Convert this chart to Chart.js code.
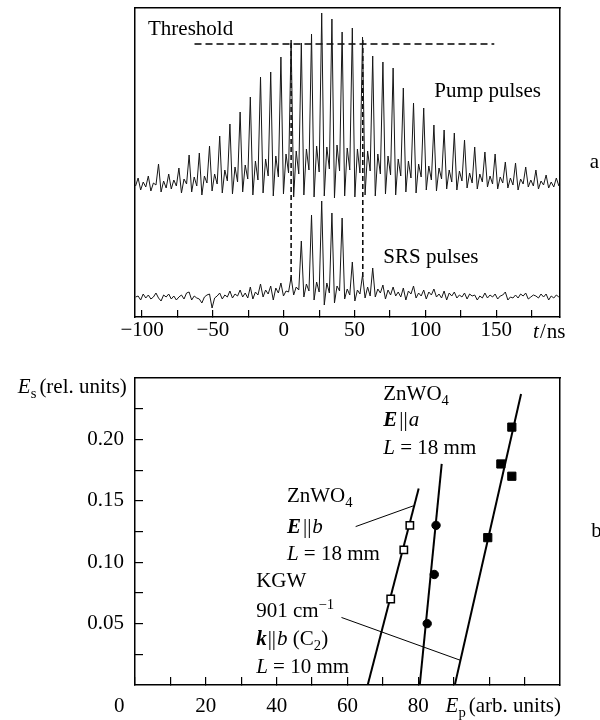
<!DOCTYPE html>
<html>
<head>
<meta charset="utf-8">
<script src="https://cdn.jsdelivr.net/npm/chart.js@4.4.0/dist/chart.umd.min.js"></script>
<style>
  html, body { margin: 0; padding: 0; background: #fff; }
  .panel { position: absolute; left: 0; width: 600px; height: 360px; }
  #pulses { top: 0; }
  #energy { top: 360px; }
</style>
</head>
<body>
<div class="panel" id="pulses"><canvas id="pulseChart" width="600" height="360"></canvas></div>
<div class="panel" id="energy"><canvas id="energyChart" width="600" height="360"></canvas></div>
<script>
// ---- panel a: scope traces, one sample every 1.8 ns starting at -104.6 ns ----
const traceStart = -104.6;
const traceStep = 1.8;
const pumpTrace = [131,
  139,127,135,130, 141,126,134,132, 153,125,136,129, 143,128,137,131, 149,124,138,133,
  162,125,140,131, 164,122,141,134, 171,126,143,133, 181,124,147,136, 193,123,150,135,
  205,125,152,138, 220,122,156,137, 240,124,158,141, 245,121,161,140, 260,123,163,144,
  277,120,166,143, 274,122,168,147, 283,120,171,145, 304,121,170,148, 298,119,172,146,
  285,121,169,147, 289,120,168,144, 280,122,166,146, 261,121,163,143, 255,123,161,142,
  249,122,158,141, 229,125,156,139, 214,124,153,140, 209,127,151,137, 192,126,149,138,
  187,128,147,135, 184,127,146,136, 177,129,144,134, 170,128,143,135, 165,130,141,133,
  163,128,140,134, 155,129,139,132, 154,127,138,133, 150,130,137,131, 147,128,136,132,
  142,129,135,130, 139,131];
const srsTrace = [20,
  21,17,23,19, 22,18,20,24, 19,16,22,20, 23,18,21,17, 20,22,18,24,
  25,17,21,19, 18,14,20,22, 23,9,19,21, 24,18,22,20, 26,19,23,21,
  27,20,24,19, 30,18,25,22, 33,20,27,23, 31,17,29,24, 34,21,26,25,
  40,22,30,27, 76,20,33,26, 102,17,35,25, 116,12,34,24, 104,14,31,26,
  99,18,28,22, 55,16,27,23, 42,19,30,21, 49,20,28,24, 32,18,27,22,
  30,21,25,20, 29,17,26,23, 31,19,24,21, 27,18,25,22, 28,20,23,19,
  26,17,24,21, 25,19,22,20, 24,18,23,21, 22,17,21,19, 24,19,22,20,
  23,18,21,22, 25,17,20,19, 22,19,23,21, 24,18,20,22, 21,19,23,20,
  23,17,21,19, 22,20];
const thresholdT = [-63, 148.6];
const thresholdLevel = 273;
const gateT = [5.2, 55.8];
const gateLow = [37, 40];
const gateHigh = [277, 280];
const timeTicks = [-100, -75, -50, -25, 0, 25, 50, 75, 100, 125, 150, 175];
const timeLabels = { '-100': '\u2212100', '-50': '\u221250', '0': '0', '50': '50', '100': '100', '150': '150' };

// ---- panel b: Stokes energy vs pump energy ----
const ebX = [72.2, 75.9, 77.6];
const ebY = [0.07, 0.11, 0.13];
const kgwX = [82.5, 84.5, 85.0];
const kgwY = [0.05, 0.09, 0.13];
const eaX = [99.6, 103.3, 106.4, 106.4];
const eaY = [0.12, 0.18, 0.17, 0.21];
const ebFitX = [65.7, 80.1];
const ebFitY = [0, 0.16];
const kgwFitX = [80.4, 86.6];
const kgwFitY = [0, 0.18];
const eaFitX = [90.3, 109.0];
const eaFitY = [0, 0.237];
const ebLeaderX = [62.3, 78.7];
const ebLeaderY = [0.129, 0.146];
const kgwLeaderX = [58.3, 92.0];
const kgwLeaderY = [0.055, 0.020];
const epTicks = [0, 10, 20, 30, 40, 50, 60, 70, 80, 90, 100, 110];
const epLabelled = [0, 20, 40, 60, 80];
const esTicks = [0.025, 0.05, 0.075, 0.1, 0.125, 0.15, 0.175, 0.2, 0.225];
const esLabelled = [0.05, 0.1, 0.15, 0.2];

const FS = 21;
const SERIF = '"Liberation Serif", "Times New Roman", serif';
const tickFont = { family: SERIF, size: FS };

function pts(xs, ys) {
  return xs.map((x, i) => ({ x: x, y: ys[i] }));
}

function fontFor(f, size) {
  return (f.includes('i') ? 'italic ' : '') + (f.includes('b') ? 'bold ' : '') + size + 'px ' + SERIF;
}

function drawRuns(ctx, x, y, runs, align) {
  const parts = runs.map(r => {
    const size = r.v ? FS * 0.7 : FS;
    ctx.font = fontFor(r.f || '', size);
    return { r: r, size: size, w: ctx.measureText(r.s).width };
  });
  const total = parts.reduce((s, p) => s + p.w + (p.r.gap || 0), 0);
  let cx = align === 'right' ? x - total : x;
  parts.forEach(p => {
    ctx.font = fontFor(p.r.f || '', p.size);
    const dy = p.r.v === 'sub' ? FS * 0.24 : (p.r.v === 'sup' ? -FS * 0.38 : 0);
    ctx.fillText(p.r.s, cx, y + dy);
    cx += p.w + (p.r.gap || 0);
  });
}

function notesPlugin(notes) {
  return {
    id: 'notes',
    afterDraw(chart) {
      const { ctx, scales } = chart;
      ctx.save();
      ctx.fillStyle = '#000';
      ctx.textBaseline = 'alphabetic';
      ctx.textAlign = 'left';
      notes.forEach(n => {
        drawRuns(ctx, scales.x.getPixelForValue(n.x), scales.y.getPixelForValue(n.y), n.runs, n.align);
      });
      ctx.restore();
    }
  };
}

// fixed axis sizes, and no extra room claimed for overhanging labels
function fixSize(w, h) {
  return s => {
    if (w !== null) s.width = w;
    if (h !== null) s.height = h;
    s.paddingTop = 0; s.paddingBottom = 0; s.paddingLeft = 0; s.paddingRight = 0;
  };
}

function frameAxis(position, fit) {
  return {
    type: 'linear',
    position: position,
    ticks: { display: false },
    grid: { display: false },
    border: { display: true, color: '#000', width: 1.5 },
    afterFit: fit
  };
}

const lineSet = (data, width, dash) => ({
  data: data, showLine: true, borderColor: '#000', borderWidth: width,
  borderDash: dash || [], pointRadius: 0, tension: 0
});

const pulseNotes = [
  { x: -95.8, y: 282, runs: [{ s: 'Threshold' }] },
  { x: 106.2, y: 220, runs: [{ s: 'Pump pulses' }] },
  { x: 70.3, y: 54, runs: [{ s: 'SRS pulses' }] },
  { x: 216, y: 149, runs: [{ s: 'a' }] },
  { x: 176, y: -21, runs: [{ s: 't', f: 'i', gap: 1 }, { s: '/', gap: 1 }, { s: 'ns' }] }
];

new Chart(document.getElementById('pulseChart'), {
  type: 'scatter',
  data: {
    datasets: [
      Object.assign(lineSet(pumpTrace.map((v, i) => ({ x: traceStart + i * traceStep, y: v })), 1), { borderColor: '#161616' }),
      Object.assign(lineSet(srsTrace.map((v, i) => ({ x: traceStart + i * traceStep, y: v })), 1), { borderColor: '#161616' }),
      lineSet(thresholdT.map(t => ({ x: t, y: thresholdLevel })), 1.3, [7, 4]),
      lineSet([{ x: gateT[0], y: gateLow[0] }, { x: gateT[0], y: gateHigh[0] }], 1.5, [5, 3]),
      lineSet([{ x: gateT[1], y: gateLow[1] }, { x: gateT[1], y: gateHigh[1] }], 1.5, [5, 3])
    ]
  },
  options: {
    responsive: false,
    animation: false,
    layout: { padding: { left: 0, right: 40, top: 8, bottom: 0 } },
    plugins: { legend: { display: false }, tooltip: { enabled: false } },
    scales: {
      x: {
        type: 'linear', position: 'bottom', min: -105, max: 195,
        afterBuildTicks: s => { s.ticks = timeTicks.map(v => ({ value: v })); },
        afterFit: fixSize(null, 43),
        ticks: {
          autoSkip: false, maxRotation: 0, padding: 7.5, color: '#000', font: tickFont,
          callback: v => timeLabels[v] || ''
        },
        grid: { drawOnChartArea: false, tickLength: -7, color: '#000', lineWidth: 1.2 },
        border: { color: '#000', width: 1.5 }
      },
      y: Object.assign(frameAxis('left', fixSize(135, null)), { min: 0, max: 309 }),
      xTop: frameAxis('top', fixSize(null, 0)),
      yRight: frameAxis('right', fixSize(0, null))
    }
  },
  plugins: [notesPlugin(pulseNotes)]
});

const energyNotes = [
  { x: -2.3, y: 0.2377, align: 'right', runs: [{ s: 'E', f: 'i' }, { s: 's', v: 'sub', gap: 3 }, { s: '(rel. units)' }] },
  { x: 87.7, y: -0.0217, runs: [{ s: 'E', f: 'i' }, { s: 'p', v: 'sub', gap: 3 }, { s: '(arb. units)' }] },
  { x: 128.8, y: 0.1205, runs: [{ s: 'b' }] },
  { x: 70.1, y: 0.232, runs: [{ s: 'ZnWO' }, { s: '4', v: 'sub' }] },
  { x: 70.1, y: 0.211, runs: [{ s: 'E', f: 'bi', gap: 2 }, { s: '||', gap: 1 }, { s: 'a', f: 'i' }] },
  { x: 70.1, y: 0.188, runs: [{ s: 'L', f: 'i' }, { s: ' = 18 mm' }] },
  { x: 42.9, y: 0.1487, runs: [{ s: 'ZnWO' }, { s: '4', v: 'sub' }] },
  { x: 42.9, y: 0.1235, runs: [{ s: 'E', f: 'bi', gap: 2 }, { s: '||', gap: 1 }, { s: 'b', f: 'i' }] },
  { x: 42.9, y: 0.1018, runs: [{ s: 'L', f: 'i' }, { s: ' = 18 mm' }] },
  { x: 34.2, y: 0.080, runs: [{ s: 'KGW' }] },
  { x: 34.2, y: 0.0556, runs: [{ s: '901 cm' }, { s: '\u22121', v: 'sup' }] },
  { x: 34.2, y: 0.0326, runs: [{ s: 'k', f: 'bi', gap: 1 }, { s: '||', gap: 1 }, { s: 'b', f: 'i' }, { s: ' (C' }, { s: '2', v: 'sub' }, { s: ')' }] },
  { x: 34.2, y: 0.010, runs: [{ s: 'L', f: 'i' }, { s: ' = 10 mm' }] }
];

new Chart(document.getElementById('energyChart'), {
  type: 'scatter',
  data: {
    datasets: [
      { data: pts(ebX, ebY), pointStyle: 'rect', pointRadius: 5.2, pointBackgroundColor: '#fff', pointBorderColor: '#000', pointBorderWidth: 1.5 },
      { data: pts(kgwX, kgwY), pointStyle: 'circle', pointRadius: 4.2, pointBackgroundColor: '#000', pointBorderColor: '#000', pointBorderWidth: 1 },
      { data: pts(eaX, eaY), pointStyle: 'rect', pointRadius: 5.8, pointBackgroundColor: '#000', pointBorderColor: '#000', pointBorderWidth: 1 },
      lineSet(pts(ebFitX, ebFitY), 2),
      lineSet(pts(kgwFitX, kgwFitY), 2),
      lineSet(pts(eaFitX, eaFitY), 2),
      lineSet(pts(ebLeaderX, ebLeaderY), 1),
      lineSet(pts(kgwLeaderX, kgwLeaderY), 1)
    ]
  },
  options: {
    responsive: false,
    animation: false,
    layout: { padding: { left: 0, right: 40, top: 18, bottom: 0 } },
    plugins: { legend: { display: false }, tooltip: { enabled: false } },
    scales: {
      x: {
        type: 'linear', position: 'bottom', min: 0, max: 120,
        afterBuildTicks: s => { s.ticks = epTicks.map(v => ({ value: v })); },
        afterFit: fixSize(null, 35),
        ticks: {
          autoSkip: false, maxRotation: 0, padding: 17, color: '#000', font: tickFont,
          // the zero sits left of the corner in the original
          callback: v => epLabelled.includes(v) ? (v === 0 ? '0      ' : String(v)) : ''
        },
        grid: { drawOnChartArea: false, tickLength: -8, color: '#000', lineWidth: 1.2 },
        border: { color: '#000', width: 1.5 }
      },
      y: {
        type: 'linear', position: 'left', min: 0, max: 0.25,
        afterBuildTicks: s => { s.ticks = esTicks.map(v => ({ value: v })); },
        afterFit: fixSize(135, null),
        ticks: {
          autoSkip: false, padding: 19, color: '#000', font: tickFont,
          callback: v => esLabelled.some(l => Math.abs(l - v) < 1e-6) ? v.toFixed(2) : ''
        },
        grid: { drawOnChartArea: false, tickLength: -8, color: '#000', lineWidth: 1.2 },
        border: { color: '#000', width: 1.5 }
      },
      xTop: frameAxis('top', fixSize(null, 0)),
      yRight: frameAxis('right', fixSize(0, null))
    }
  },
  plugins: [notesPlugin(energyNotes)]
});
</script>
</body>
</html>
